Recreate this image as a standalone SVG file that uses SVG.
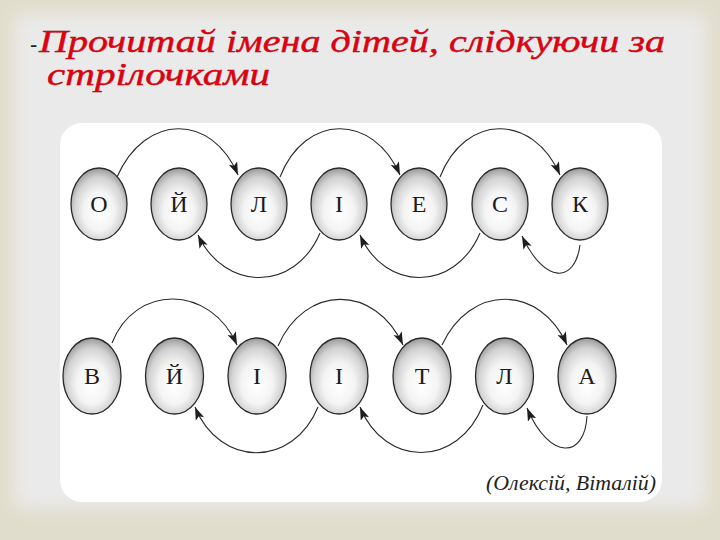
<svg xmlns="http://www.w3.org/2000/svg" width="720" height="540" viewBox="0 0 720 540">
<defs>
<filter id="soft" x="-10%" y="-10%" width="120%" height="120%"><feGaussianBlur stdDeviation="9"/></filter>
<radialGradient id="ball" cx="50%" cy="56%" r="54%" fx="50%" fy="64%">
<stop offset="0" stop-color="#ffffff"/>
<stop offset="0.5" stop-color="#f4f4f4"/>
<stop offset="0.82" stop-color="#d2d2d2"/>
<stop offset="1" stop-color="#a2a2a2"/>
</radialGradient>
<marker id="arr" markerUnits="userSpaceOnUse" markerWidth="14" markerHeight="10" refX="13" refY="4.5" orient="auto">
<path d="M0,0 L13,4.5 L0,9 L3,4.5 z" fill="#1e1e1e"/>
</marker>
<style>
.ball{fill:url(#ball);stroke:#2a2a2a;stroke-width:1.3}
.let{font-family:"Liberation Serif","DejaVu Serif",serif;font-size:24px;fill:#1c1c1c;text-anchor:middle}
.arc{fill:none;stroke:#2a2a2a;stroke-width:1.1;marker-end:url(#arr)}
.title{font-family:"Liberation Serif","DejaVu Serif",serif;font-style:italic;font-size:32px;fill:#e00010;stroke:#8a0000;stroke-width:0.4;paint-order:stroke}
.cap{font-family:"Liberation Serif","DejaVu Serif",serif;font-style:italic;font-size:20px;fill:#222}
</style>
</defs>
<rect x="0" y="0" width="720" height="540" fill="#e1ddcc"/>
<rect x="14" y="14" width="692" height="494" rx="6" fill="#eaeaea" filter="url(#soft)"/>
<rect x="60" y="123" width="602" height="379" rx="22" fill="#ffffff"/>

<g id="title">
<text x="30" y="52" font-family="Liberation Sans, sans-serif" font-size="22" fill="#222">-</text>
<text class="title" x="39" y="52" textLength="626" lengthAdjust="spacingAndGlyphs">Прочитай імена дітей, слідкуючи за</text>
<text class="title" x="47" y="85" textLength="223" lengthAdjust="spacingAndGlyphs">стрілочками</text>
</g>

<g id="connectors">
<path class="arc" d="M117,177 C145,113 212,113 238,175"/>
<path class="arc" d="M280,177 C305,113 373,113 400,175"/>
<path class="arc" d="M440,177 C465,113 533,113 560,175"/>
<path class="arc" d="M580,245 C575,283 545,285 522,236"/>
<path class="arc" d="M480,233 C455,292 385,292 360,235"/>
<path class="arc" d="M320,233 C295,292 225,292 198,235"/>
<path class="arc" d="M112,343 C135,284 210,284 237,345"/>
<path class="arc" d="M278,346 C305,284 375,284 403,345"/>
<path class="arc" d="M442,345 C470,284 540,284 567,345"/>
<path class="arc" d="M587,416 C585,458 550,462 527,408"/>
<path class="arc" d="M483,405 C458,468 385,468 360,407"/>
<path class="arc" d="M318,407 C293,468 220,468 195,407"/>
</g>

<g id="n1o"><ellipse class="ball" cx="99" cy="204" rx="28" ry="36"/><text class="let" x="99" y="212">О</text></g>
<g id="n1y"><ellipse class="ball" cx="179" cy="204" rx="28" ry="36"/><text class="let" x="179" y="212">Й</text></g>
<g id="n1l"><ellipse class="ball" cx="259" cy="204" rx="28" ry="36"/><text class="let" x="259" y="212">Л</text></g>
<g id="n1i"><ellipse class="ball" cx="339" cy="204" rx="28" ry="36"/><text class="let" x="339" y="212">І</text></g>
<g id="n1e"><ellipse class="ball" cx="419" cy="204" rx="28" ry="36"/><text class="let" x="419" y="212">Е</text></g>
<g id="n1s"><ellipse class="ball" cx="500" cy="204" rx="28" ry="36"/><text class="let" x="500" y="212">С</text></g>
<g id="n1k"><ellipse class="ball" cx="580" cy="204" rx="28" ry="36"/><text class="let" x="580" y="212">К</text></g>

<g id="n2v"><ellipse class="ball" cx="92" cy="376" rx="29" ry="38"/><text class="let" x="92" y="384">В</text></g>
<g id="n2y"><ellipse class="ball" cx="174.5" cy="376" rx="29" ry="38"/><text class="let" x="174.5" y="384">Й</text></g>
<g id="n2i1"><ellipse class="ball" cx="257" cy="376" rx="29" ry="38"/><text class="let" x="257" y="384">І</text></g>
<g id="n2i2"><ellipse class="ball" cx="339" cy="376" rx="29" ry="38"/><text class="let" x="339" y="384">І</text></g>
<g id="n2t"><ellipse class="ball" cx="422" cy="376" rx="29" ry="38"/><text class="let" x="422" y="384">Т</text></g>
<g id="n2l"><ellipse class="ball" cx="504.5" cy="376" rx="29" ry="38"/><text class="let" x="504.5" y="384">Л</text></g>
<g id="n2a"><ellipse class="ball" cx="587" cy="376" rx="29" ry="38"/><text class="let" x="587" y="384">А</text></g>

<g id="caption"><text class="cap" x="486" y="490" textLength="170" lengthAdjust="spacingAndGlyphs">(Олексій, Віталій)</text></g>
</svg>
